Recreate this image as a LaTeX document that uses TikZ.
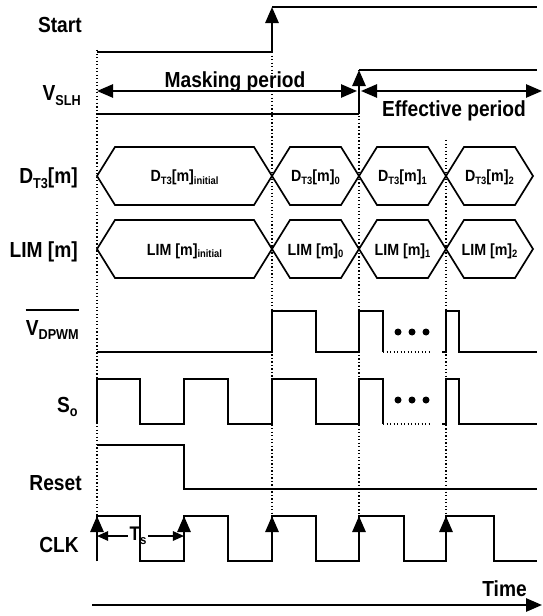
\documentclass[tikz,border=0pt]{standalone}
\usepackage{fontspec}
\setmainfont{Liberation Sans}[FakeStretch=0.88]
\usepackage{graphicx}
\usetikzlibrary{arrows.meta}

\newcommand\subtxt[1]{\raisebox{-0.35ex}{\scalebox{0.66}{#1}}}

\begin{document}
\begin{tikzpicture}[x=0.025cm,y=-0.025cm,
  wave/.style={line width=1.6pt,line join=miter},
  hexbox/.style={line width=1.2pt,line join=miter},
  guide/.style={line width=0.9pt,dash pattern=on 0.9pt off 1.6pt},
  edgearrow/.style={-{Triangle[length=4mm,width=3.3mm]},line width=1.6pt},
  spanarrow/.style={{Triangle[length=4mm,width=3.3mm]}-{Triangle[length=4mm,width=3.3mm]},line width=1.4pt},
  tsarrow/.style={-{Triangle[length=2.8mm,width=2.4mm]},line width=1.1pt},
  siglabel/.style={font=\bfseries\fontsize{15.5}{18}\selectfont,anchor=base east,inner sep=0pt},
  periodlabel/.style={font=\bfseries\fontsize{15.5}{18}\selectfont,anchor=base,inner sep=0pt},
  hextext/.style={font=\bfseries\fontsize{11.5}{13}\selectfont,anchor=base,inner sep=0pt}
]
\useasboundingbox (0,0) rectangle (542,616);

% dotted guides at the clock edges
\foreach \x/\y in {97/50,272/52,359/70,446/140}
  \draw[guide] (\x,\y) -- (\x,516);

% signal names
\node[siglabel] (lstart) at (82,33) {Start};
\node[siglabel] (lvslh) at (81,101) {V\subtxt{SLH}};
\node[siglabel] (ldt) at (78,184) {D\subtxt{T3}[m]};
\node[siglabel] (llim) at (78,257) {LIM [m]};
\node[siglabel] (lvdpwm) at (79,335) {V\subtxt{DPWM}};
\draw[line width=1.3pt] ([yshift=2.4mm]lvdpwm.north west) -- ([yshift=2.4mm]lvdpwm.north east);
\node[siglabel] (lso) at (78,412) {S\subtxt{o}};
\node[siglabel] (lreset) at (82,490) {Reset};
\node[siglabel] (lclk) at (79,552) {CLK};

% Start and V_SLH
\draw[wave] (97,52) -- (272,52);
\draw[edgearrow] (272,52) -- (272,7);
\draw[wave] (272,7) -- (537,7);
\draw[wave] (97,114) -- (359,114);
\draw[edgearrow] (359,114) -- (359,70);
\draw[wave] (359,70) -- (537,70);

% masking / effective periods
\coordinate (mask0) at (97,91);
\coordinate (mask1) at (357,91);
\coordinate (eff0) at (361,91);
\coordinate (eff1) at (542,91);
\draw[spanarrow] (mask0) -- (mask1);
\draw[spanarrow] (eff0) -- (eff1);
\node[periodlabel] (lmask) at (235,88) {Masking period};
\node[periodlabel] (leff) at (454,117) {Effective period};

% bus values
\foreach \m in {176,249}
  \foreach \a/\b in {97/272,272/359,359/446,446/533}
    \draw[hexbox] (\a,\m) -- ({\a+18},{\m-29}) -- ({\b-18},{\m-29}) -- (\b,\m)
      -- ({\b-18},{\m+29}) -- ({\a+18},{\m+29}) -- cycle;
\node[hextext] (dinit) at (184.5,182) {D\subtxt{T3}[m]\subtxt{initial}};
\node[hextext] (dzero) at (315.5,182) {D\subtxt{T3}[m]\subtxt{0}};
\node[hextext] (done) at (402.5,182) {D\subtxt{T3}[m]\subtxt{1}};
\node[hextext] (dtwo) at (489.5,182) {D\subtxt{T3}[m]\subtxt{2}};
\node[hextext] (liminit) at (184.5,255) {LIM [m]\subtxt{initial}};
\node[hextext] (limzero) at (315.5,255) {LIM [m]\subtxt{0}};
\node[hextext] (limone) at (402.5,255) {LIM [m]\subtxt{1}};
\node[hextext] (limtwo) at (489.5,255) {LIM [m]\subtxt{2}};

% V_DPWM (inverted)
\draw[wave] (97,352) -- (272,352) -- (272,311) -- (316,311) -- (316,352) -- (359,352)
  -- (359,311) -- (383,311) -- (383,352);
\draw[guide] (383,352) -- (432,352);
\draw[wave] (442,352) -- (446,352) -- (446,311) -- (459,311) -- (459,352) -- (537,352);

% S_o
\draw[wave] (97,424) -- (97,379) -- (140,379) -- (140,424) -- (184,424) -- (184,379)
  -- (228,379) -- (228,424) -- (272,424) -- (272,379) -- (316,379) -- (316,424)
  -- (359,424) -- (359,379) -- (383,379) -- (383,424);
\draw[guide] (383,424) -- (432,424);
\draw[wave] (442,424) -- (446,424) -- (446,379) -- (459,379) -- (459,424) -- (537,424);

\foreach \y in {332,400}
  \foreach \x in {398,412,426}
    \fill (\x,\y) circle (3.5);

% Reset
\draw[wave] (97,445) -- (184,445) -- (184,489) -- (537,489);

% CLK
\draw[wave] (97,561) -- (97,516) -- (140,516) -- (140,561) -- (184,561) -- (184,516)
  -- (228,516) -- (228,561) -- (272,561) -- (272,516) -- (316,516) -- (316,561)
  -- (359,561) -- (359,516) -- (404,516) -- (404,561) -- (446,561) -- (446,516)
  -- (494,516) -- (494,561) -- (537,561);
\foreach \x in {97,184,272,359,446}
  \draw[edgearrow] (\x,561) -- (\x,516);

% sampling period
\node[font=\bfseries\fontsize{14}{16}\selectfont,inner sep=1pt] (ts) at (138,536) {T\subtxt{s}};
\coordinate (tsl) at (97,536);
\coordinate (tsr) at (184,536);
\draw[tsarrow] (ts.west) -- (tsl);
\draw[tsarrow] (ts.east) -- (tsr);

% time axis
\node[siglabel] (ltime) at (527,596) {Time};
\coordinate (time0) at (92,605);
\coordinate (time1) at (542,605);
\draw[-{Triangle[length=4mm,width=3.3mm]},line width=1.6pt] (time0) -- (time1);
\end{tikzpicture}
\end{document}
